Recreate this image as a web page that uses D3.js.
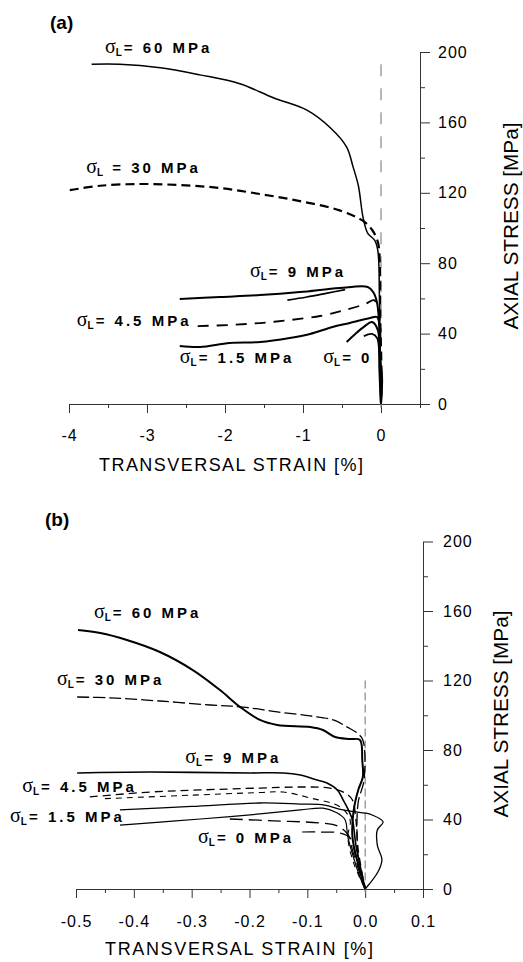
<!DOCTYPE html>
<html>
<head>
<meta charset="utf-8">
<script src="https://cdn.jsdelivr.net/npm/d3@7"></script>
<style>
  body { margin: 0; background: #fff; }
  svg { display: block; }
  text { font-family: "Liberation Sans", Arial, sans-serif; fill: #000; }
</style>
</head>
<body>
<svg id="chart" width="523" height="962"></svg>
<script>
// values: [transversal strain %, axial stress MPa]

// ---- panel (a) ----
const a60 = [[-3.71,193],[-3.35,193],[-2.83,191],[-2.32,187],[-1.81,182],[-1.38,174],[-0.95,167],[-0.65,157],
  [-0.44,146],[-0.36,135],[-0.29,124],[-0.23,106],[-0.17,97],[-0.08,93],[-0.04,87],[-0.02,60],[-0.01,30],[0,0]];
const a30 = [[-3.99,121.5],[-3.6,124],[-3.09,125],[-2.58,124.4],[-2.06,122.7],[-1.55,119.3],[-1.04,115.3],
  [-0.53,110],[-0.23,104],[-0.115,99],[-0.04,92],[-0.015,80],[-0.01,50],[0.005,20],[0,0]];
const a9 = [[-2.58,59.7],[-2.06,60.8],[-1.55,61.9],[-1.04,63.6],[-0.53,65.9],[-0.17,66.5],[-0.1,63.6],
  [-0.05,57.4],[-0.02,42],[-0.01,20],[0,0]];
const a9b = [[-1.2,59],[-0.95,60.8],[-0.69,63],[-0.46,65]];
const a45 = [[-2.35,44.3],[-1.94,44.9],[-1.55,46],[-1.17,47.7],[-0.78,50],[-0.46,53.4],[-0.205,56.8],
  [-0.09,59],[-0.03,53],[-0.015,30],[0.01,12],[0,0]];
const a15 = [[-2.58,33],[-2.32,32.4],[-1.94,34.7],[-1.55,35.2],[-1.17,37.5],[-0.91,39.8],[-0.62,43.8],
  [-0.4,46],[-0.14,48.9],[-0.05,49.4],[-0.015,42],[-0.02,20],[0,0]];
const a0 = [[-0.44,35.2],[-0.33,39.8],[-0.22,43.8],[-0.115,46.6],[-0.04,42],[-0.02,25],[-0.005,8],[0,0]];
const a0b = [[-0.22,38.6],[-0.115,39.8],[-0.05,37.5],[-0.02,28],[0.015,15],[0,0]];

// ---- panel (b) ----
const b60 = [[-0.4965,149],[-0.458,147.3],[-0.412,143.3],[-0.355,136.4],[-0.298,126],[-0.251,114.5],
  [-0.216,104.7],[-0.182,97.3],[-0.152,94.4],[-0.095,93.2],[-0.073,91.5],[-0.052,87.5],[-0.026,86.3],
  [-0.009,85.8],[-0.005,74],[-0.004,64.5],[-0.012,57],[-0.02,45],[-0.022,30],[-0.012,14],[0,0]];
const b30 = [[-0.498,110.5],[-0.441,110],[-0.355,108.2],[-0.268,105.9],[-0.211,104.7],[-0.152,101.9],
  [-0.095,99.6],[-0.055,97.3],[-0.031,93.2],[-0.014,89.8],[-0.004,85.8],[-0.002,62.7],[-0.012,50],
  [-0.014,30],[-0.01,12],[0,0]];
const b9 = [[-0.498,66.8],[-0.372,67.3],[-0.199,66.8],[-0.142,66.8],[-0.112,65.6],[-0.083,62.7],[-0.066,61],
  [-0.048,57],[-0.038,51.2],[-0.029,45.5],[-0.022,39.7],[-0.016,25.3],[-0.009,13.8],[0,0]];
const b45 = [[-0.476,53],[-0.372,55.8],[-0.285,57],[-0.182,58.1],[-0.112,58.7],[-0.061,58.1],[-0.035,55.3],
  [-0.022,51.2],[-0.016,39.7],[-0.012,22.4],[0,0]];
const b45b = [[-0.45,52],[-0.3,54],[-0.182,55.5],[-0.142,55.8],[-0.095,52.4],[-0.043,47.2],[-0.026,39.7],
  [-0.03,30],[-0.02,15],[0,0]];
const b15 = [[-0.424,45.5],[-0.3,47.5],[-0.182,49.5],[-0.112,48.9],[-0.07,48.3],[-0.045,46],[-0.02,44.5],
  [0,43.7],[0.012,42.6],[0.031,38.6],[0.021,34],[0.021,25.3],[0.029,16.7],[0.022,9.8],[0,0]];
const b15b = [[-0.424,36.8],[-0.355,38.5],[-0.285,40.3],[-0.182,43.2],[-0.112,45.5],[-0.073,46.5],
  [-0.05,44],[-0.035,40],[-0.03,30],[-0.02,18],[-0.008,6],[0,0]];
const b0 = [[-0.234,40.3],[-0.147,39.1],[-0.078,38],[-0.048,36.3],[-0.029,31],[-0.022,22.4],[-0.012,12],[0,0]];
const b0b = [[-0.109,32.8],[-0.078,32.8],[-0.043,32.2],[-0.026,29.4],[-0.017,19.6],[0,0]];

// ticks
const yMajor = [0, 40, 80, 120, 160, 200];
const yMinor = [20, 60, 100, 140, 180];
const aXMajor = [-4, -3, -2, -1, 0];
const aXMinor = [-3.5, -2.5, -1.5, -0.5, 0.5];
const bXMajor = [-0.5, -0.4, -0.3, -0.2, -0.1, 0, 0.1];
const bXMinor = [-0.45, -0.35, -0.25, -0.15, -0.05, 0.05];

// curve labels, anchored in data units
const aLabels = [
  {s: -3.54, v: 199.4, t: "= 60 MPa"},
  {s: -3.78, v: 131.3, t: " = 30 MPa"},
  {s: -1.68, v: 72.2, t: "= 9 MPa"},
  {s: -3.90, v: 44.3, t: "= 4.5 MPa"},
  {s: -2.58, v: 23.3, t: "= 1.5 MPa"},
  {s: -0.74, v: 23.3, t: "= 0"}
];
const bLabels = [
  {s: -0.469, v: 156, t: "= 60 MPa"},
  {s: -0.533, v: 117.4, t: "= 30 MPa"},
  {s: -0.311, v: 72.5, t: "= 9 MPa"},
  {s: -0.593, v: 55.8, t: "= 4.5 MPa"},
  {s: -0.614, v: 38.6, t: "= 1.5 MPa"},
  {s: -0.289, v: 26.5, t: "= 0 MPa"}
];

const svg = d3.select("#chart");

// plain hyphen for negatives, like the original figure
const hyphen = f => d => f(d).replace("\u2212", "-");

function drawPanel(cfg) {
  const x = d3.scaleLinear().domain(cfg.xDomain).range(cfg.xRange);
  const y = d3.scaleLinear().domain([0, 200]).range(cfg.yRange);
  const g = svg.append("g");

  // x axis: minor then major ticks
  g.append("g").attr("class", "axis")
    .attr("transform", `translate(0,${y(0)})`)
    .call(d3.axisBottom(x).tickValues(cfg.xMinor).tickSize(4).tickSizeOuter(0).tickFormat(""));
  g.append("g").attr("class", "axis")
    .attr("transform", `translate(0,${y(0)})`)
    .call(d3.axisBottom(x).tickValues(cfg.xMajor).tickSize(9).tickSizeOuter(0)
      .tickPadding(cfg.xPad).tickFormat(hyphen(cfg.xFormat)));

  // y axis on the right end of the x range
  const xr = x.range()[1];
  g.append("g").attr("class", "axis")
    .attr("transform", `translate(${xr},0)`)
    .call(d3.axisRight(y).tickValues(yMinor).tickSize(5).tickSizeOuter(0).tickFormat(""));
  g.append("g").attr("class", "axis")
    .attr("transform", `translate(${xr},0)`)
    .call(d3.axisRight(y).tickValues(yMajor).tickSize(10).tickSizeOuter(0).tickPadding(cfg.yPad));

  g.selectAll(".axis path, .axis line").attr("stroke", "#333").attr("stroke-width", 1);
  g.selectAll(".axis text").attr("font-size", 16).attr("letter-spacing", 1).attr("fill", "#000");

  // dashed zero reference
  g.append("line")
    .attr("x1", x(0)).attr("x2", x(0))
    .attr("y1", y(cfg.refTop)).attr("y2", y(0) + 4)
    .attr("stroke", "#888").attr("stroke-width", 1.2)
    .attr("stroke-dasharray", cfg.refDash);

  const line = d3.line()
    .x(d => x(d[0])).y(d => y(d[1]))
    .curve(d3.curveCatmullRom.alpha(0.5));

  cfg.curves.forEach(c => {
    g.append("path")
      .attr("d", line(c.data))
      .attr("fill", "none")
      .attr("stroke", "#000")
      .attr("stroke-width", c.w)
      .attr("stroke-linejoin", "round")
      .attr("stroke-dasharray", c.dash || null);
  });

  // sigma_L labels
  cfg.labels.forEach(d => {
    const t = g.append("text").attr("x", x(d.s)).attr("y", y(d.v));
    t.append("tspan").style("font-family", "'Liberation Serif', serif").attr("font-size", 20).text("σ");
    t.append("tspan").attr("font-size", 10).attr("font-weight", "bold").attr("dy", 3)
      .attr("letter-spacing", 2).text("L");
    t.append("tspan").attr("dy", -3).attr("font-size", 15).attr("font-weight", "bold")
      .attr("letter-spacing", 3).style("white-space", "pre").text(d.t);
  });

  // panel tag
  g.append("text").attr("x", cfg.tag[0]).attr("y", cfg.tag[1])
    .attr("font-size", 19).attr("font-weight", "bold").text(cfg.tagText);

  // axis titles
  g.append("text")
    .attr("x", cfg.xTitle[0]).attr("y", cfg.xTitle[1])
    .attr("text-anchor", "middle").attr("font-size", 18)
    .attr("textLength", cfg.xTitle[2]).attr("lengthAdjust", "spacing")
    .text("TRANSVERSAL STRAIN [%]");
  g.append("text")
    .attr("transform", `translate(${cfg.yTitle[0]},${cfg.yTitle[1]}) rotate(-90)`)
    .attr("text-anchor", "middle").attr("font-size", 20)
    .attr("textLength", 207).attr("lengthAdjust", "spacingAndGlyphs")
    .text("AXIAL STRESS [MPa]");
}

drawPanel({
  xDomain: [-4, 0.5], xRange: [69, 420], yRange: [404, 52],
  xMajor: aXMajor, xMinor: aXMinor, xFormat: d3.format("d"),
  xPad: 17, yPad: 8,
  refTop: 193, refDash: "12,12",
  tag: [50, 29], tagText: "(a)",
  xTitle: [231, 471, 264], yTitle: [518, 226],
  labels: aLabels,
  curves: [
    {data: a60, w: 1.5},
    {data: a30, w: 2.2, dash: "9,5"},
    {data: a9, w: 2},
    {data: a9b, w: 1.6},
    {data: a45, w: 1.8, dash: "11,8"},
    {data: a15, w: 2},
    {data: a0, w: 2},
    {data: a0b, w: 1.8}
  ]
});

drawPanel({
  xDomain: [-0.5, 0.1], xRange: [76, 423], yRange: [889, 541.5],
  xMajor: bXMajor, xMinor: bXMinor, xFormat: d3.format(".1f"),
  xPad: 18, yPad: 10,
  refTop: 120, refDash: "8,4",
  tag: [45, 526], tagText: "(b)",
  xTitle: [239, 955, 268], yTitle: [508, 714],
  labels: bLabels,
  curves: [
    {data: b60, w: 2},
    {data: b30, w: 1.3, dash: "12,4"},
    {data: b9, w: 1.6},
    {data: b45, w: 1.3, dash: "8,5"},
    {data: b45b, w: 1.1, dash: "6,5"},
    {data: b15, w: 1.3},
    {data: b15b, w: 1.2},
    {data: b0, w: 1.3, dash: "13,6"},
    {data: b0b, w: 1.2, dash: "13,6"}
  ]
});
</script>
</body>
</html>
